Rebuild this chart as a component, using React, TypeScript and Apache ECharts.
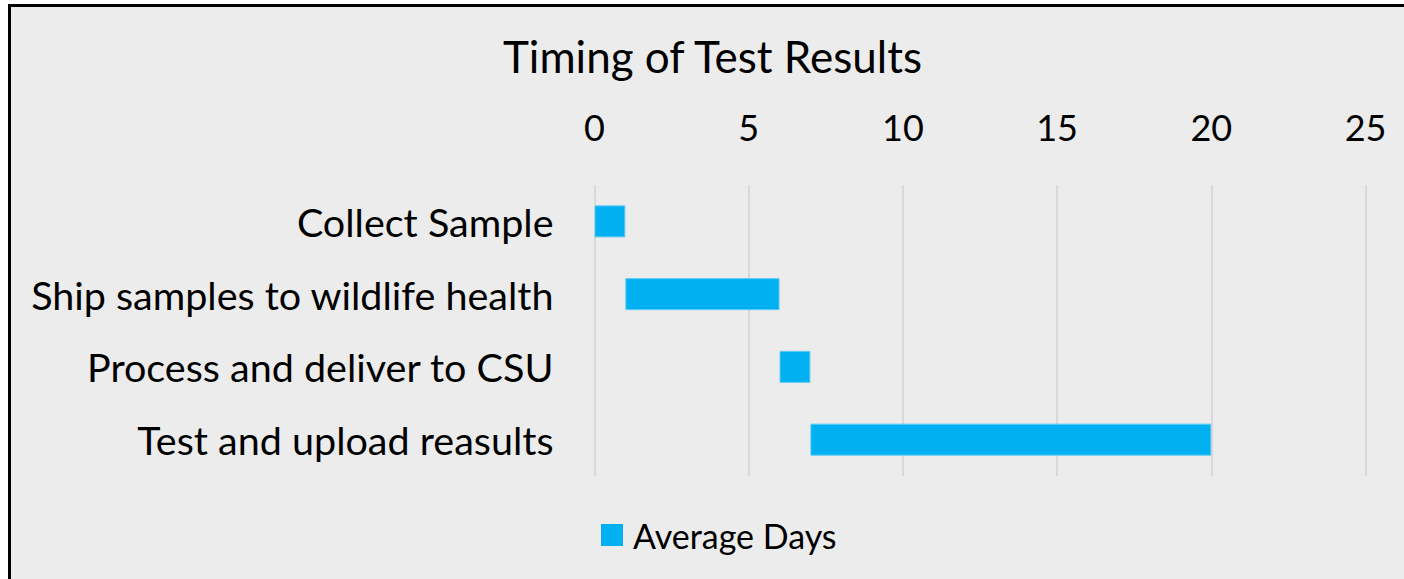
import React, { useEffect, useRef } from "react";
import * as echarts from "echarts";

const categories = [
  "Collect Sample",
  "Ship samples to wildlife health",
  "Process and deliver to CSU",
  "Test and upload reasults",
];
const startDays = [0, 1, 6, 7];
const averageDays = [1, 5, 1, 13];
const xTicks = { min: 0, max: 25, interval: 5 };

const FONT = "Lato, 'Open Sans', sans-serif";

export default function App() {
  const ref = useRef<HTMLDivElement>(null);
  useEffect(() => {
    if (!ref.current) return;
    const chart = echarts.init(ref.current, undefined, { renderer: "svg" });
    chart.setOption({
      animation: false,
      backgroundColor: "#ECECEC",
      title: {
        text: "Timing of Test Results",
        left: "center",
        top: 22,
        textStyle: { fontFamily: FONT, fontSize: 44, fontWeight: "normal", color: "#000" },
      },
      legend: {
        data: ["Average Days"],
        left: 590,
        top: 511,
        padding: 0,
        icon: "rect",
        itemWidth: 22,
        itemHeight: 22,
        itemGap: 10,
        itemStyle: { borderWidth: 0 },
        textStyle: { fontFamily: FONT, fontSize: 34, color: "#000", padding: [0, 0, 0, 5] },
      },
      grid: { left: 583.5, top: 178, width: 771, height: 291, containLabel: false },
      xAxis: {
        type: "value",
        position: "top",
        min: xTicks.min,
        max: xTicks.max,
        interval: xTicks.interval,
        axisLine: { show: false },
        axisTick: { show: false },
        axisLabel: { fontFamily: FONT, fontSize: 36, color: "#000", margin: 40 },
        splitLine: { show: true, lineStyle: { color: "#D9D9D9", width: 2 } },
      },
      yAxis: {
        type: "category",
        inverse: true,
        data: categories,
        axisLine: { show: false },
        axisTick: { show: false },
        axisLabel: { fontFamily: FONT, fontSize: 39.5, color: "#000", margin: 41 },
        splitLine: { show: false },
      },
      series: [
        {
          name: "Start",
          type: "bar",
          stack: "gantt",
          data: startDays,
          barWidth: 32,
          itemStyle: { color: "rgba(0,0,0,0)" },
          emphasis: { disabled: true },
          silent: true,
        },
        {
          name: "Average Days",
          type: "bar",
          stack: "gantt",
          data: averageDays,
          barWidth: 32,
          itemStyle: { color: "#00B0F0", borderColor: "#5CCBF3", borderWidth: 1 },
        },
      ],
    });
    return () => chart.dispose();
  }, []);
  return (
    <div
      style={{
        position: "fixed",
        left: 8,
        top: 4,
        width: 1409,
        height: 600,
        border: "3px solid #000",
        boxSizing: "border-box",
        background: "#ECECEC",
      }}
    >
      <div ref={ref} style={{ width: 1403, height: 594 }} />
    </div>
  );
}
